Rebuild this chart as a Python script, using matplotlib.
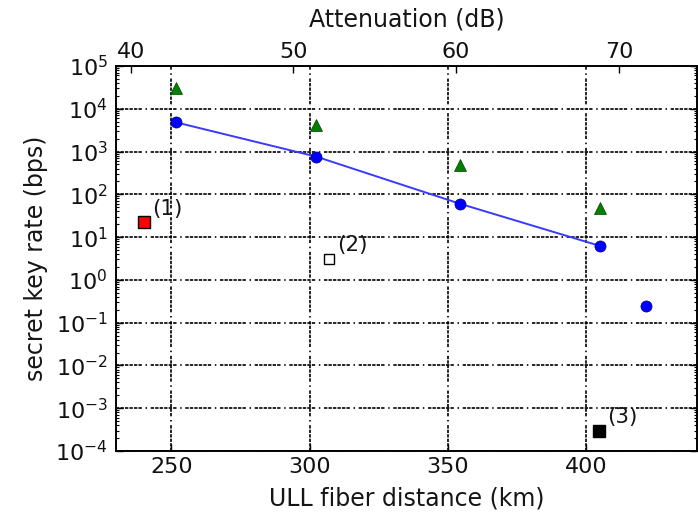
import matplotlib
matplotlib.use('Agg')
import matplotlib.pyplot as plt
from matplotlib.ticker import LogLocator, FixedLocator, NullFormatter, NullLocator

# ---- data ----
dist_fit = [251.8, 302.4, 354.4, 405.0]
rate_fit = [4.8e3, 7.6e2, 60.0, 6.2]
dist_green = [251.8, 302.4, 354.4, 405.0]
rate_green = [3.0e4, 4.2e3, 4.9e2, 47.0]
dist_extra = [421.5]
rate_extra = [0.24]
ref_labels = ['(1)', '(2)', '(3)']
ref_dist = [240.2, 307.0, 404.5]
ref_rate = [22.0, 3.1, 3.0e-4]
km_ticks = [250, 300, 350, 400]
db_ticks = [40, 50, 60, 70]
db_per_km = 0.17
x_range = (230, 440)
y_range = (1e-4, 1e5)

plt.rcParams['font.family'] = ['DejaVu Sans']
plt.rcParams['mathtext.fontset'] = 'dejavusans'

fig = plt.figure(figsize=(6.98, 5.14), dpi=100, facecolor='white')
ax = fig.add_axes([0.1662, 0.1226, 0.8324, 0.749])

grid_style = (0, (2.0, 0.7, 2.0, 0.7, 2.0, 0.7, 2.0, 0.7, 2.0, 0.7, 2.0, 2.2, 0.9, 2.2))

ax.plot(dist_fit, rate_fit, '-', color='#3a3aff', lw=1.4, zorder=3)
ax.plot(dist_fit, rate_fit, 'o', color='blue', ms=8, mec='#000080', mew=0.5, zorder=4)
ax.plot(dist_extra, rate_extra, 'o', color='blue', ms=8, mec='#000080', mew=0.5, zorder=4)
ax.plot(dist_green, rate_green, '^', color='#008000', ms=9, mec='#004000', mew=0.5, zorder=4)

face = ['red', 'white', 'black']
msz = [9, 7.5, 9]
for lab, x, y, fc, m in zip(ref_labels, ref_dist, ref_rate, face, msz):
    ax.plot([x], [y], 's', mfc=fc, mec='black', mew=1.0, ms=m, zorder=5)
    ax.annotate(lab, xy=(x, y), xytext=(6, 10), textcoords='offset points',
                ha='left', va='center', fontsize=15.5, color='#151515')

ax.set_yscale('log')
ax.set_xlim(*x_range)
ax.set_ylim(*y_range)
ax.xaxis.set_major_locator(FixedLocator(km_ticks))
ax.yaxis.set_major_locator(LogLocator(base=10, numticks=20))
ax.yaxis.set_minor_locator(LogLocator(base=10, subs=range(2, 10), numticks=20))
ax.yaxis.set_minor_formatter(NullFormatter())

ax.grid(True, which='major', color='black', lw=1.2, linestyle=grid_style)
ax.tick_params(axis='both', which='both', direction='in', labelsize=16, labelcolor='#111111')
ax.tick_params(axis='y', which='both', left=True, right=True)
ax.tick_params(axis='x', which='both', top=False, bottom=True, pad=4.5)
ax.tick_params(which='major', length=5, width=1)
ax.tick_params(which='minor', length=2.5, width=0.8)
ax.tick_params(axis='y', pad=6)

ax.set_xlabel('ULL fiber distance (km)', fontsize=17, color='#151515', labelpad=7)
ax.set_ylabel('secret key rate (bps)', fontsize=17, color='#151515', labelpad=5)

ax2 = ax.twiny()
ax2.set_xlim(x_range[0] * db_per_km, x_range[1] * db_per_km)
ax2.xaxis.set_major_locator(FixedLocator(db_ticks))
ax2.xaxis.set_minor_locator(NullLocator())
ax2.tick_params(axis='x', direction='in', labelsize=16, labelcolor='#111111',
                length=5, width=1, pad=3)
ax2.set_xlabel('Attenuation (dB)', fontsize=17, color='#151515', labelpad=11)

for a in (ax, ax2):
    for s in a.spines.values():
        s.set_linewidth(1.2)

fig.savefig('out.png', dpi=100, facecolor='white')
